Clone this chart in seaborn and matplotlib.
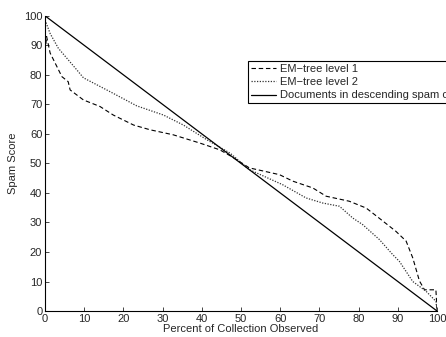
import numpy as np
import pandas as pd
import matplotlib
matplotlib.use("Agg")
import matplotlib.pyplot as plt
import seaborn as sns

# values
level1_x = [0, 0.4, 1.3, 4.3, 5.9, 6.4, 9.8, 14, 17.4, 22.6, 26.8, 32.7, 39.5, 44.6, 48,
            52.1, 59.8, 63.2, 68.3, 71.7, 77.6, 81.9, 85.2, 89.5, 92.1, 93.8, 95.5, 96.8, 99.7, 100]
level1_y = [88, 93, 87.4, 79.4, 77.7, 74.9, 71.5, 69.3, 66.4, 63, 61.4, 59.7, 56.9, 54.6, 52,
            48.5, 46.2, 44, 41.7, 38.9, 37.2, 34.9, 31.5, 27, 23.7, 18, 10.2, 7.2, 7.2, 0]

level2_x = [0, 1.3, 3.4, 8.1, 9.8, 16.6, 23.4, 30.2, 35.3, 41.3, 47.2,
            52.1, 60.6, 66.6, 70.8, 75.1, 78.5, 81, 85.3, 88.7, 90.4, 93.8, 97.2, 99.7, 100]
level2_y = [98.6, 94, 89, 81.7, 79, 74.3, 69.5, 66.4, 63, 58, 53.5,
            47.9, 42.8, 38.3, 36.6, 35.5, 31.5, 29.3, 24.2, 19.1, 16.8, 10, 6.7, 3.3, 0]

ideal_x = [0, 100]
ideal_y = [100, 0]

labels = ["EM\u2212tree level 1", "EM\u2212tree level 2", "Documents in descending spam order"]

sns.set_style("ticks")
plt.rcParams["font.family"] = ["Liberation Sans", "DejaVu Sans"]
plt.rcParams["xtick.direction"] = "in"
plt.rcParams["ytick.direction"] = "in"

fig = plt.figure(figsize=(4.46, 3.37), dpi=100)
ax = fig.add_axes([0.101, 0.077, 0.879, 0.876])

sns.lineplot(x=level1_x, y=level1_y, ax=ax, color="black", linewidth=0.8,
             linestyle=(0, (4, 2.5)), label=labels[0], sort=False)
sns.lineplot(x=level2_x, y=level2_y, ax=ax, color="#333333", linewidth=0.9,
             linestyle=(0, (1, 1.2)), label=labels[1], sort=False)
sns.lineplot(x=ideal_x, y=ideal_y, ax=ax, color="black", linewidth=0.9,
             label=labels[2], sort=False)

ax.set_xlim(0, 100)
ax.set_ylim(0, 100)
ax.set_xticks(range(0, 101, 10))
ax.set_yticks(range(0, 101, 10))
ax.tick_params(labelsize=8, length=3, width=0.6, pad=2)
for side in ["top", "right"]:
    ax.spines[side].set_visible(False)
for side in ["left", "bottom"]:
    ax.spines[side].set_linewidth(0.8)
    ax.spines[side].set_color("black")

ax.set_xlabel("Percent of Collection Observed", fontsize=8, labelpad=0)
ax.set_ylabel("Spam Score", fontsize=8, labelpad=4)

leg = ax.legend(loc="upper left", bbox_to_anchor=(0.518, 0.847), fontsize=8,
                frameon=True, fancybox=False, edgecolor="black", framealpha=1,
                borderpad=0.25, labelspacing=0.3, handlelength=2.3, handletextpad=0.3,
                borderaxespad=0)
leg.get_frame().set_linewidth(0.8)
leg.set_clip_on(False)

fig.savefig("out.png", dpi=100)
